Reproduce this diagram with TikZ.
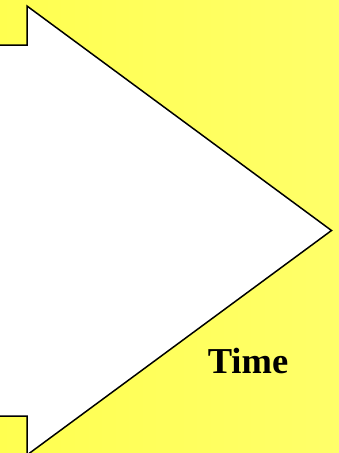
\documentclass[tikz,border=0pt]{standalone}
\usepackage{fontspec}
\setmainfont{Liberation Serif}
\begin{document}
\begin{tikzpicture}[x=1pt,y=-1pt,
  bigarrow/.style={draw=black,fill=white,line width=1.5pt,line join=miter},
  label/.style={font=\fontsize{36.5}{40}\selectfont\bfseries,inner sep=0pt}]
\shade[left color={rgb,255:red,255;green,255;blue,80},right color={rgb,255:red,255;green,255;blue,105}] (0,0) rectangle (339,453);
\useasboundingbox (0,0) rectangle (339,453);
\draw[bigarrow] (-3,45) -- (27,45) -- (27,6) -- (331.5,230.5) -- (27,455) -- (27,416) -- (-3,416);
\node[label,anchor=base] (time) at (248,373) {Time};
\end{tikzpicture}
\end{document}
